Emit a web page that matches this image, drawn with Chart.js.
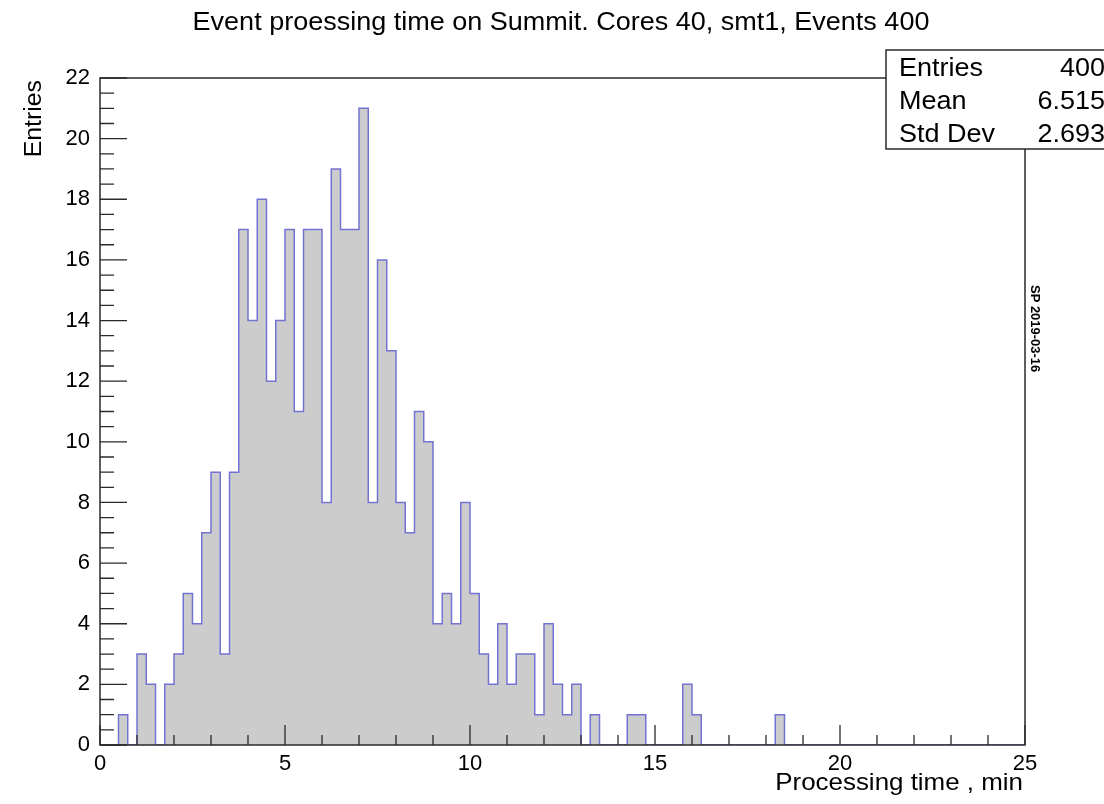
<!DOCTYPE html>
<html>
<head>
<meta charset="utf-8">
<script src="https://cdn.jsdelivr.net/npm/chart.js@4.4.1/dist/chart.umd.min.js"></script>
<style>
  html, body { margin: 0; padding: 0; background: #ffffff; }
  #wrap { width: 1104px; height: 804px; position: relative; }
</style>
</head>
<body>
<div id="wrap"><canvas id="c" width="1104" height="804"></canvas></div>
<script>
// ---- Data ----
const chartTitle = "Event proessing time on Summit. Cores 40, smt1, Events 400";
const xTitle = "Processing time , min";
const yTitle = "Entries";
const xMin = 0, xMax = 25, binWidth = 0.25;
const yMin = 0, yMax = 22;
const xTickStep = 5, yTickStep = 2;
// bin contents, 100 bins of 0.25 min from 0 to 25
const counts = [
  0, 0, 1, 0, 3, 2, 0, 2, 3, 5,
  4, 7, 9, 3, 9, 17, 14, 18, 12, 14,
  17, 11, 17, 17, 8, 19, 17, 17, 21, 8,
  16, 13, 8, 7, 11, 10, 4, 5, 4, 8,
  5, 3, 2, 4, 2, 3, 3, 1, 4, 2,
  1, 2, 0, 1, 0, 0, 0, 1, 1, 0,
  0, 0, 0, 2, 1, 0, 0, 0, 0, 0,
  0, 0, 0, 1, 0, 0, 0, 0, 0, 0,
  0, 0, 0, 0, 0, 0, 0, 0, 0, 0,
  0, 0, 0, 0, 0, 0, 0, 0, 0, 0
];
const statsLabels = ["Entries", "Mean", "Std Dev"];
const statsValues = ["400", "6.515", "2.693"];
const stampText = "SP 2019-03-16";

// ---- Build step points at the bin lower edges ----
const stepPoints = counts.map((c, i) => ({ x: xMin + i * binWidth, y: c }));
stepPoints.push({ x: xMax, y: 0 });

const FONT = "'Liberation Sans', Arial, Helvetica, sans-serif";
const STRETCH = 1.08; // reference glyphs are a little wider than Liberation Sans

function wideText(ctx, text, x, y, align, font, angle) {
  ctx.save();
  ctx.translate(x, y);
  if (angle) ctx.rotate(angle);
  ctx.scale(STRETCH, 1);
  ctx.font = font;
  ctx.textAlign = align;
  ctx.textBaseline = 'alphabetic';
  ctx.fillText(text, 0, 0);
  ctx.restore();
}

const rootPlugin = {
  id: 'rootDecor',
  afterDatasetsDraw(chart) {
    const ctx = chart.ctx;
    const a = chart.chartArea;
    const xs = chart.scales.x, ys = chart.scales.y;
    ctx.save();
    // frame
    ctx.strokeStyle = '#2a2a2a';
    ctx.lineWidth = 1.5;
    ctx.beginPath();
    ctx.rect(a.left, a.top, a.right - a.left, a.bottom - a.top);
    ctx.stroke();
    // x ticks (inside, upward)
    ctx.lineWidth = 1.3;
    ctx.beginPath();
    for (let v = xMin; v <= xMax + 1e-9; v += 1) {
      const px = xs.getPixelForValue(v);
      const major = Math.abs(v / xTickStep - Math.round(v / xTickStep)) < 1e-9;
      const len = major ? 20 : 10;
      ctx.moveTo(px, a.bottom);
      ctx.lineTo(px, a.bottom - len);
    }
    // y ticks (inside, rightward)
    for (let v = yMin; v <= yMax + 1e-9; v += 0.5) {
      const py = ys.getPixelForValue(v);
      const major = Math.abs(v / yTickStep - Math.round(v / yTickStep)) < 1e-9;
      const len = major ? 27 : 14;
      ctx.moveTo(a.left, py);
      ctx.lineTo(a.left + len, py);
    }
    ctx.stroke();

    ctx.fillStyle = '#000';
    // title
    wideText(ctx, chartTitle, 561, 30, 'center', '25px ' + FONT);
    // x axis title
    wideText(ctx, xTitle, a.right - 2, 790, 'right', '24px ' + FONT);
    // y axis title
    wideText(ctx, yTitle, 41, a.top + 2, 'right', '23px ' + FONT, -Math.PI / 2);

    // stats box
    const bx = 886, by = 50, bw = 240, bh = 99;
    ctx.fillStyle = '#ffffff';
    ctx.fillRect(bx, by, bw, bh);
    ctx.strokeStyle = '#2a2a2a';
    ctx.lineWidth = 1.5;
    ctx.strokeRect(bx, by, bw, bh);
    ctx.fillStyle = '#000';
    const rows = [76, 109, 142];
    statsLabels.forEach((lab, i) => {
      wideText(ctx, lab, 899, rows[i], 'left', '25px ' + FONT);
      wideText(ctx, statsValues[i], 1105, rows[i], 'right', '25px ' + FONT);
    });

    // date stamp
    wideText(ctx, stampText, 1031, 285, 'left', 'bold 12px ' + FONT, Math.PI / 2);

    ctx.restore();
  }
};

new Chart(document.getElementById('c'), {
  type: 'line',
  data: {
    datasets: [{
      data: stepPoints,
      stepped: 'before',
      borderColor: '#7373d4',
      borderWidth: 1.5,
      backgroundColor: '#cccccc',
      fill: 'origin',
      pointRadius: 0,
      tension: 0
    }]
  },
  options: {
    responsive: false,
    animation: false,
    events: [],
    layout: { padding: { left: 0, top: 78, right: 79, bottom: 0 } },
    plugins: { legend: { display: false }, title: { display: false }, tooltip: { enabled: false } },
    scales: {
      x: {
        type: 'linear', min: xMin, max: xMax,
        grid: { display: false, drawTicks: false },
        border: { display: false },
        ticks: { stepSize: xTickStep, color: '#000', font: { family: FONT, size: 22 }, padding: 6, maxRotation: 0 },
        afterFit(s) { s.height = 59; }
      },
      y: {
        type: 'linear', min: yMin, max: yMax,
        grid: { display: false, drawTicks: false },
        border: { display: false },
        ticks: { stepSize: yTickStep, color: '#000', font: { family: FONT, size: 22 }, padding: 10 },
        afterFit(s) { s.width = 100; }
      }
    }
  },
  plugins: [rootPlugin]
});
</script>
</body>
</html>
